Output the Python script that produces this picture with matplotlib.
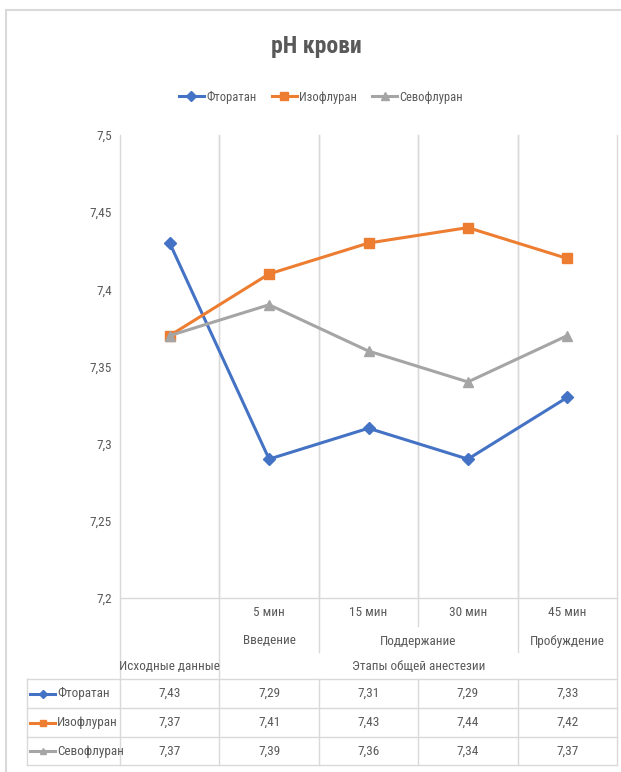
import matplotlib.pyplot as plt
from matplotlib import font_manager
from matplotlib.transforms import blended_transform_factory

# =========================
# Data
# =========================
series_names = ["Фторатан", "Изофлуран", "Севофлуран"]
ftoratan = [7.43, 7.29, 7.31, 7.29, 7.33]
izofluran = [7.37, 7.41, 7.43, 7.44, 7.42]
sevofluran = [7.37, 7.39, 7.36, 7.34, 7.37]

time_labels = ["", "5 мин", "15 мин", "30 мин", "45 мин"]
phase_labels = ["Введение", "Поддержание", "Пробуждение"]
stage_labels = ["Исходные данные", "Этапы общей анестезии"]

y_ticks = [7.2, 7.25, 7.3, 7.35, 7.4, 7.45, 7.5]
y_tick_labels = ["7,2", "7,25", "7,3", "7,35", "7,4", "7,45", "7,5"]

colors = ["#4472C4", "#ED7D31", "#A5A5A5"]
markers = ["D", "s", "^"]
msizes = [6, 6.5, 7]

TEXT = "#595959"
GRID = "#D9D9D9"


def pick_narrow_font():
    """Return (family, stretch) of the narrowest sans font that is installed."""
    fonts = font_manager.fontManager.ttflist
    names = {f.name for f in fonts}
    for fam in ["Liberation Sans Narrow", "Roboto Condensed", "Open Sans Condensed",
                "Noto Sans Condensed", "DejaVu Sans Condensed"]:
        if fam in names:
            return fam, "normal"
    for fam in ["Noto Sans", "Open Sans", "Roboto", "DejaVu Sans"]:
        if any(f.name == fam and f.stretch in ("condensed", "semi-condensed") for f in fonts):
            return fam, "condensed"
    return "Liberation Sans", "normal"


FONT, STRETCH = pick_narrow_font()
plt.rcParams["font.family"] = [FONT, "DejaVu Sans"]
plt.rcParams["font.stretch"] = STRETCH
SCALE = 1.0 if STRETCH == "condensed" or FONT != "Liberation Sans" else 0.88

W, H = 621, 772
fig = plt.figure(figsize=(W / 100, H / 100), dpi=100)

# overlay in pixel coordinates for the frame and the table grid
ov = fig.add_axes([0, 0, 1, 1], zorder=0)
ov.set_xlim(0, W)
ov.set_ylim(H, 0)
ov.axis("off")

# chart frame
ov.plot([6, W], [10, 10], color=GRID, lw=1.5)
ov.plot([6, 6], [10, H], color=GRID, lw=1.5)

# =========================
# Main plot
# =========================
left, right, top, bottom = 120, 617, 135, 598
ax = fig.add_axes([left / W, 1 - bottom / H, (right - left) / W, (bottom - top) / H], zorder=2)
ax.patch.set_visible(False)

x = list(range(len(ftoratan)))
all_series = [ftoratan, izofluran, sevofluran]
for vals, name, c, m, ms in zip(all_series, series_names, colors, markers, msizes):
    ax.plot(x, vals, color=c, lw=2.2, marker=m, markersize=ms, label=name)

ax.set_xlim(-0.5, len(x) - 0.5)
ax.set_ylim(7.2, 7.5)
ax.set_xticks([])
ax.set_yticks(y_ticks)
ax.set_yticklabels(y_tick_labels)
ax.tick_params(axis="y", length=0, pad=6, labelsize=9.5 * SCALE, labelcolor=TEXT)

for side in ["top", "left", "right"]:
    ax.spines[side].set_visible(False)
ax.spines["bottom"].set_color(GRID)
ax.spines["bottom"].set_linewidth(1)

for k in range(len(x) - 1):
    ax.axvline(k + 0.5, color=GRID, lw=1, zorder=0)

# title and legend
fig.text(316 / W, 1 - 47 / H, "pH крови", ha="center", va="center",
         fontsize=17 * SCALE, fontweight="bold", color=TEXT)
fig.legend(loc="center", bbox_to_anchor=(321 / W, 1 - 97 / H), ncol=3,
           frameon=False, fontsize=9 * SCALE, handlelength=2.0, handletextpad=0.2,
           columnspacing=1.2, labelcolor=TEXT, markerscale=0.8)

# =========================
# Category axis and data table
# =========================
bt = blended_transform_factory(ax.transData, ov.transData)

table_top, table_bottom = 679, 765
row_lines = [679, 708, 737, 765]
row_centers = [693.5, 722.5, 751]

# vertical lines below the plot: (category boundary, lowest y)
v_lines = [(-0.5, table_bottom), (0.5, table_bottom), (1.5, 652),
           (2.5, 626), (3.5, 652), (4.5, table_bottom)]
for bx, y_end in v_lines:
    ov.plot([bx, bx], [top, y_end], color=GRID, lw=1, transform=bt)
    if y_end < table_top:
        ov.plot([bx, bx], [table_top, table_bottom], color=GRID, lw=1, transform=bt)

for ry in row_lines:
    ov.plot([27, right], [ry, ry], color=GRID, lw=1)
ov.plot([27, 27], [table_top, table_bottom], color=GRID, lw=1)

fs = 9.5 * SCALE
for i, lab in enumerate(time_labels):
    if lab:
        ov.text(i, 613, lab, transform=bt, ha="center", va="center", fontsize=fs, color=TEXT)

ov.text(1, 641, phase_labels[0], transform=bt, ha="center", va="center", fontsize=fs, color=TEXT)
ov.text(2.5, 641, phase_labels[1], transform=bt, ha="center", va="center", fontsize=fs, color=TEXT)
ov.text(4, 641, phase_labels[2], transform=bt, ha="center", va="center", fontsize=fs, color=TEXT)

ov.text(0, 667, stage_labels[0], transform=bt, ha="center", va="center", fontsize=fs, color=TEXT)
ov.text(2.5, 667, stage_labels[1], transform=bt, ha="center", va="center", fontsize=fs, color=TEXT)

for vals, name, c, m, ms, ry in zip(all_series, series_names, colors, markers, msizes, row_centers):
    ov.plot([30, 55], [ry, ry], color=c, lw=2.2)
    ov.plot([42.5], [ry], color=c, marker=m, markersize=ms - 2)
    ov.text(57, ry, name, ha="left", va="center", fontsize=fs, color=TEXT)
    for i, v in enumerate(vals):
        ov.text(i, ry, f"{v:.2f}".replace(".", ","), transform=bt,
                ha="center", va="center", fontsize=fs, color=TEXT)

fig.savefig("out.png", dpi=100, facecolor="white")
